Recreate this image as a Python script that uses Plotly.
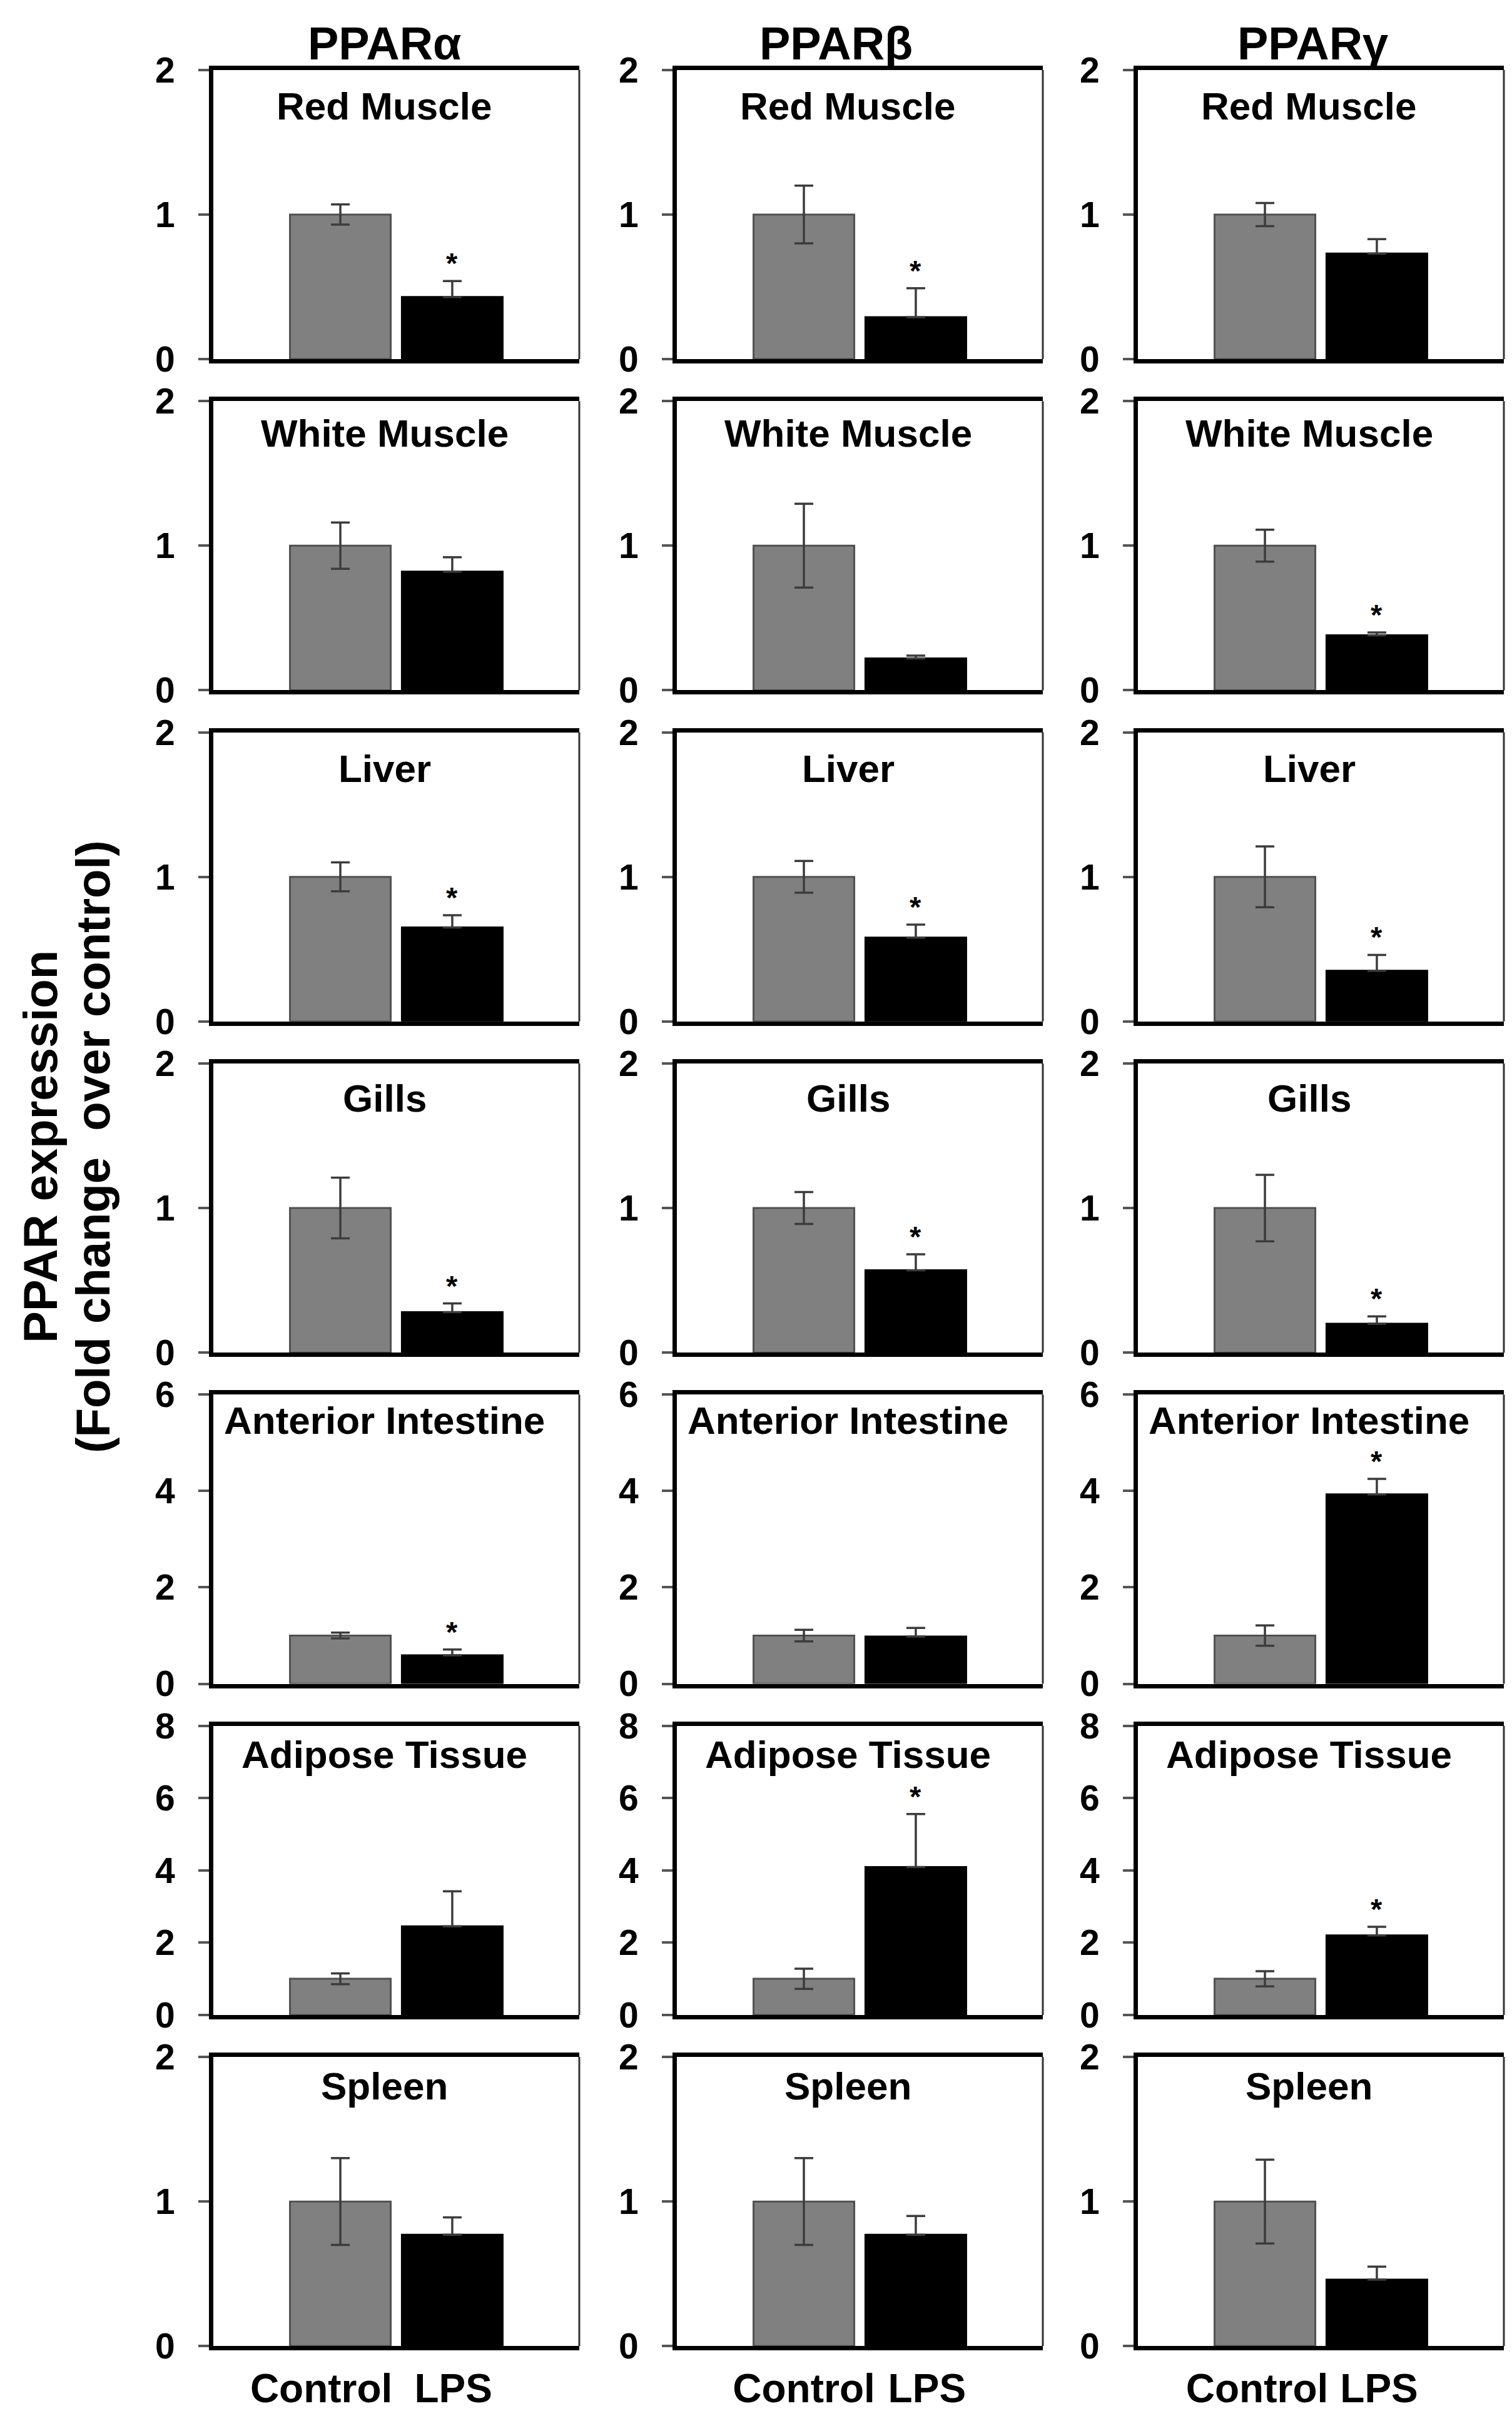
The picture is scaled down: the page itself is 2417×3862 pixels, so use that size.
import plotly.graph_objects as go

# ---------------- data ----------------
genes = ["PPARα", "PPARβ", "PPARγ"]
tissues = ["Red Muscle", "White Muscle", "Liver", "Gills",
           "Anterior Intestine", "Adipose Tissue", "Spleen"]
groups = ["Control", "LPS"]
y_max = [2, 2, 2, 2, 6, 8, 2]
y_step = [1, 1, 1, 1, 2, 2, 1]

# control means (fold change = 1 by definition)
control_alpha = [1.0, 1.0, 1.0, 1.0, 1.0, 1.0, 1.0]
control_beta = [1.0, 1.0, 1.0, 1.0, 1.0, 1.0, 1.0]
control_gamma = [1.0, 1.0, 1.0, 1.0, 1.0, 1.0, 1.0]
control_err_alpha = [0.07, 0.16, 0.10, 0.21, 0.06, 0.15, 0.30]
control_err_beta = [0.20, 0.29, 0.11, 0.11, 0.12, 0.28, 0.30]
control_err_gamma = [0.08, 0.11, 0.21, 0.23, 0.21, 0.21, 0.29]

lps_alpha = [0.43, 0.82, 0.65, 0.28, 0.59, 2.45, 0.77]
lps_beta = [0.29, 0.22, 0.58, 0.57, 0.98, 4.09, 0.77]
lps_gamma = [0.73, 0.38, 0.35, 0.20, 3.93, 2.20, 0.46]
lps_err_alpha = [0.11, 0.10, 0.085, 0.06, 0.12, 0.97, 0.12]
lps_err_beta = [0.20, 0.02, 0.09, 0.11, 0.18, 1.47, 0.13]
lps_err_gamma = [0.10, 0.02, 0.11, 0.05, 0.32, 0.24, 0.09]

sig_alpha = [True, False, True, True, True, False, False]
sig_beta = [True, False, True, True, False, True, False]
sig_gamma = [False, True, True, True, True, True, False]

control = [control_alpha, control_beta, control_gamma]
control_err = [control_err_alpha, control_err_beta, control_err_gamma]
lps = [lps_alpha, lps_beta, lps_gamma]
lps_err = [lps_err_alpha, lps_err_beta, lps_err_gamma]
sig = [sig_alpha, sig_beta, sig_gamma]

# ---------------- layout geometry (pixels of the 2417x3862 canvas) ----------------
W, H = 2417, 3862
col_left = [333.0, 1074.0, 1811.0]
col_w = 585.0
row_top0, row_pitch, row_h = 73.0, 538.3, 470.0
title_off = [59, 52, 59, 57, 42, 47, 47]
# x positions of the two group labels under each column (axis units)
label_pos = [(-0.17, 1.01), (0.0, 1.10), (-0.07, 1.02)]

FONT = "Liberation Sans, Arial, sans-serif"
BAR_X = [0, 1]

fig = go.Figure()
layout = dict(
    width=W, height=H,
    margin=dict(l=0, r=0, t=0, b=0),
    paper_bgcolor="white", plot_bgcolor="white",
    showlegend=False,
    font=dict(family=FONT, color="black", size=56, weight="bold"),
)
annotations = []
shapes = []

n = 0
for r, tissue in enumerate(tissues):
    top = row_top0 + r * row_pitch
    bot = top + row_h
    for c, gene in enumerate(genes):
        n += 1
        xa = "x" if n == 1 else f"x{n}"
        ya = "y" if n == 1 else f"y{n}"
        xk = "xaxis" if n == 1 else f"xaxis{n}"
        yk = "yaxis" if n == 1 else f"yaxis{n}"
        x0 = col_left[c] / W
        x1 = (col_left[c] + col_w) / W

        fig.add_trace(go.Bar(
            x=[BAR_X[0]], y=[control[c][r]], name=groups[0],
            error_y=dict(type="data", array=[control_err[c][r]], visible=True,
                         color="#3c3c3c", thickness=3.5, width=15),
            marker=dict(color="#808080", line=dict(color="#505050", width=3)),
            width=0.9, xaxis=xa, yaxis=ya,
        ))
        fig.add_trace(go.Bar(
            x=[BAR_X[1]], y=[lps[c][r]], name=groups[1],
            error_y=dict(type="data", array=[lps_err[c][r]], arrayminus=[0],
                         symmetric=False, visible=True,
                         color="#3c3c3c", thickness=3.5, width=15),
            marker=dict(color="black", line=dict(color="black", width=3)),
            width=0.9, xaxis=xa, yaxis=ya,
        ))

        layout[xk] = dict(
            domain=[x0, x1], anchor=ya,
            range=[-1.135, 2.135],
            tickmode="array", tickvals=list(label_pos[c]), ticktext=groups,
            showline=True, linecolor="black", linewidth=7, mirror=True,
            ticks="", showgrid=False, zeroline=False,
            showticklabels=(r == len(tissues) - 1),
            tickfont=dict(family=FONT, size=64, color="black", weight="bold"),
            ticklabelstandoff=6,
        )
        layout[yk] = dict(
            domain=[1 - bot / H, 1 - top / H], anchor=xa,
            range=[0, y_max[r]], dtick=y_step[r], tick0=0,
            showline=True, linecolor="black", linewidth=7, mirror=False,
            ticks="outside", ticklen=17, tickwidth=4, tickcolor="#555555",
            showgrid=False, zeroline=False,
            tickfont=dict(family=FONT, size=57, color="black", weight="bold"),
            ticklabelstandoff=26,
        )
        # thin right border
        shapes.append(dict(type="line", xref=f"{xa} domain", yref=f"{ya} domain",
                           x0=1, x1=1, y0=0, y1=1,
                           line=dict(color="#333333", width=3)))
        # panel title
        annotations.append(dict(
            text=tissue, xref=f"{xa} domain", yref=f"{ya} domain",
            x=0.468, y=1 - title_off[r] / row_h, xanchor="center", yanchor="middle",
            showarrow=False,
            font=dict(family=FONT, size=62, color="black", weight="bold"),
        ))
        # significance star
        if sig[c][r]:
            annotations.append(dict(
                text="*", xref=xa, yref=ya,
                x=BAR_X[1], y=lps[c][r] + lps_err[c][r],
                xanchor="center", yanchor="bottom", yshift=0,
                showarrow=False,
                font=dict(family=FONT, size=47, color="black", weight="bold"),
            ))

# column headers
header_x = [607, 1328, 2090]
for c, gene in enumerate(genes):
    annotations.append(dict(
        text=gene, xref="paper", yref="paper",
        x=header_x[c] / W, y=1 - 30 / H,
        xanchor="center", yanchor="middle", showarrow=False,
        font=dict(family=FONT, size=74, color="black", weight="bold"),
    ))

# y-axis title (two lines)
ytitle_lines = ["PPAR expression", "(Fold change&nbsp; over control)"]
ytitle_x = [57, 141]
for txt, xp in zip(ytitle_lines, ytitle_x):
    annotations.append(dict(
        text=txt, xref="paper", yref="paper", x=xp / W, y=1 - 1823 / H,
        xanchor="center", yanchor="middle", textangle=-90, showarrow=False,
        font=dict(family=FONT, size=76, color="black", weight="bold"),
    ))

layout["annotations"] = annotations
layout["shapes"] = shapes
fig.update_layout(**layout)
fig.write_html("out.html")
